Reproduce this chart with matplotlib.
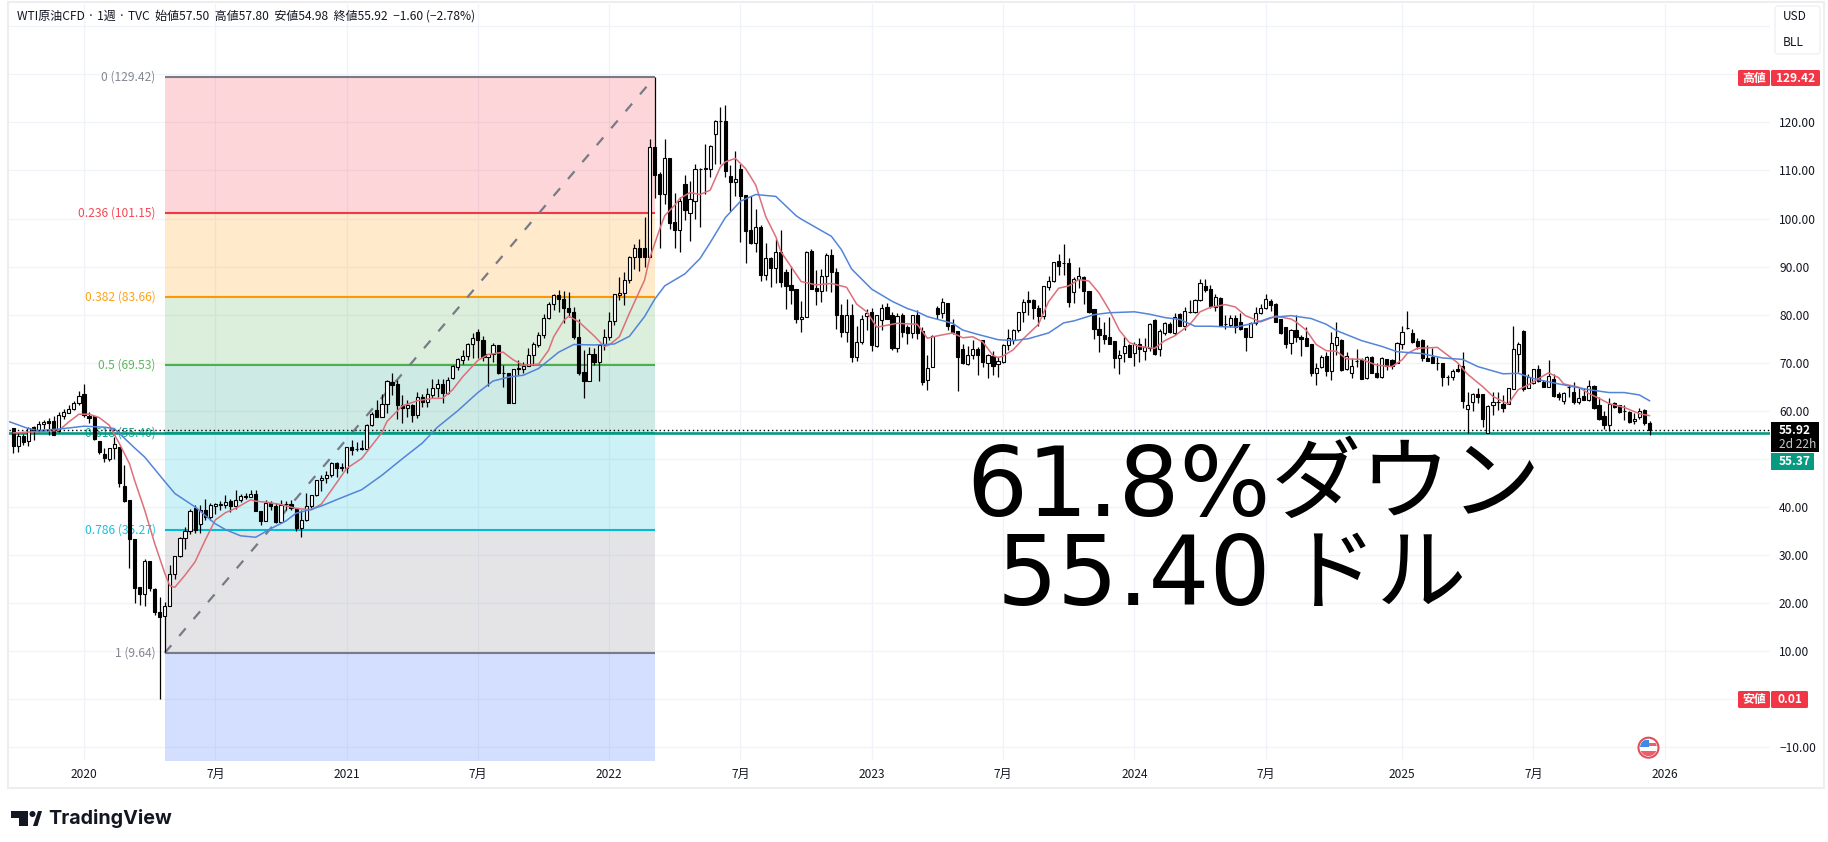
import numpy as np
import matplotlib
matplotlib.use("Agg")
import matplotlib.pyplot as plt
from matplotlib.patches import Rectangle, FancyBboxPatch, Circle, Polygon

plt.rcParams['font.family'] = ['Noto Sans CJK JP', 'DejaVu Sans']

# weekly candles
opens = [56.4,52.75,54.8,53.7,56.6,55.9,57.2,57.8,57.9,55.7,
59,59.6,60.3,61.6,63.6,58.9,58.9,53.7,51,50,
52.2,52.5,44.4,41.4,33.3,23.3,21.8,28.8,23,18.2,
17.4,19.5,26,29.7,33.6,35.1,39.8,36.4,39.4,38,
40.1,40.4,40.5,41.2,40.3,41.4,42.1,42.1,42.8,39.2,
37.1,40.9,40.3,36.9,40.7,40.7,39.7,35.7,37.2,40.1,
42.4,45.6,46,46.6,49.1,48.2,48.2,52.5,52.1,52.2,
52.1,57,60.1,58.8,61.5,66,65.5,61.3,60.6,61.2,
59.1,62.9,61.9,63.3,64.7,65.5,63.8,66.8,69.2,70.6,
71.4,73.8,76.4,74.7,71.2,71.9,73.7,67.9,67.8,61.7,
68.6,68.8,69.3,71.7,73.7,75.7,79.4,82.3,84,83.2,
81.3,80.6,75.4,68,66.3,71.9,70.2,73.6,75.3,78.7,
84.1,84.6,87.2,91.9,93.8,93.8,91.9,114.8,109.2,105.2,
112.5,99.2,97.7,107.1,101.2,103.7,110.4,110.4,110.4,117.5,
120.2,120.3,108.8,107.5,110.4,104.9,97.6,95,98.3,88.2,
91.8,89.8,93,88.9,86.2,85.3,79.2,79.6,93.2,85.5,
85,88.1,92.4,88.8,80,76.4,80,71.2,74.4,79.8,
80.5,73.4,78.8,81.6,79.9,73.1,79.9,77.5,76.2,79.9,
76.6,66.4,69.2,81.4,80.4,82.5,77.8,76.6,72.8,69.8,
71.7,72.8,74.7,70,71.4,69.7,70.2,73.7,74.7,76.8,
80.5,83,83,81.3,79.7,85.8,87.1,91.1,90.7,90.7,
84.8,87.5,87.8,85,81.2,77,75.8,75.3,74.5,71,
72.1,73.7,72.1,73.8,72.5,73,78.9,72.8,76.2,78,
76.1,80.1,77.7,80.6,80.5,83,86,85.3,81.7,83.4,
78,77.8,79.4,78.5,77.3,75.3,78.3,80.4,81.3,82.8,
82.3,79,77.4,74.2,76.9,75.4,75.07,74,67.9,69.2,
71.4,68.3,73.7,74.7,68.8,67.9,70.4,70.6,66.9,71.25,
67.9,66.95,70.7,70.6,70,74,77.3,76.1,74.5,74.7,
70.9,71.25,70,70,66.95,67.1,68.8,69.4,60.3,61.9,
63.4,63.5,55.4,61.25,61.75,61.5,61.5,64.5,71.9,76.6,
64.7,65.7,68.6,66,65,66.7,63.5,62.1,64.9,63.9,
61.9,63.07,62.2,65.15,61.2,58.9,57,61.7,61.3,60,
59.8,57.9,58.75,60.15,57.5]
closes = [52.75,54.8,53.6,56.5,55.9,57.2,57.6,57.5,55,59.1,
59.7,60.3,61.6,63,59.1,58.6,54.2,51.4,50.2,52.2,
53.2,45,41.3,33.3,23.2,21.8,28.8,23.2,18.2,17.2,
19.5,26,29.7,33.5,35.1,39.1,35.2,39.4,38,40.4,
40.6,40.6,41.1,40.3,41.4,42.3,42.3,42.8,39.2,37.1,
40.8,40.1,36.9,40.5,40.6,39.7,35.7,37.2,40.1,42.4,
45.6,46,46.6,49.1,48.2,48.25,52.5,51.8,52.1,52.1,
57,59.4,58.8,61.5,66.2,65.4,61.3,60.6,61.2,59.1,
62.9,61.9,63.4,64.7,65.5,63.8,66.5,69.3,70.7,71.4,
73.8,75.1,74.7,71.2,71.9,73.7,67.9,67.9,61.7,68.6,
69,69.3,71.7,73.9,75.7,79.4,82.3,84,83.2,81.3,
80.5,75.4,67.8,66.3,71.9,70.2,73.7,75.3,78.7,84.4,
84.6,87.2,91.9,93.8,91.9,91.9,114.8,109,105.2,112.5,
99.1,97.7,103.6,101.8,104,110.4,110.4,110.45,115.1,120.3,
120.3,109.9,107.5,108.3,104.7,97.5,95,98.2,88.2,91.7,
89.8,93,86.9,86,85.1,79.2,79.6,93.1,85.3,84.9,
88.1,92.4,88.8,79.9,76.4,80,71.2,74.4,79.2,80.3,
73.6,79.9,81.4,79.2,73.1,79.7,76.4,76.2,79.9,76.2,
66,69,75.5,80.1,82.7,77.7,76.4,71.2,69.9,71.7,
72.8,71.7,70.2,71.6,69.4,70.3,73.7,75.1,76.8,80.5,
82.6,82.7,81.3,79.7,86,87.1,91,90.2,90.7,82.7,
87.5,88.1,85,80.5,77.1,75.8,74.9,74,71,71.7,
73.5,71.2,73.9,72.8,73.3,78,71.9,76.6,78.2,76.5,
79.6,77.7,80.8,80.6,83,86.5,85.1,81.9,83.6,77.7,
78,79.4,77.4,77,75.3,78.3,80.4,81.3,83.2,82,
78.5,76.1,73.9,76.9,75.3,74.9,73.5,67.9,69,71.25,
68.3,74.2,75.3,68.5,71.5,69.3,70.4,66.7,71.1,67.9,
66.95,71,69.3,69.3,74.2,76.5,77.3,74.4,73.5,70.9,
70.4,70,70,66.95,66.95,68.3,68.2,62.1,61.3,63.6,
62.9,58.2,61,61.75,61.75,60.5,64.66,72.8,73.9,64.5,
66.95,68.6,66.25,65,67.2,63.05,62.9,63.8,64.9,61.75,
62.6,62.2,65.15,60.5,58.2,57,61.4,60.7,59.67,60,
57.6,58.4,60,57.52,55.92]
highs = [56.4,55.3,55.1,56.7,56.8,57.9,58,58.6,59,59.7,
60.3,61.2,62,64.1,65.6,59.8,58.9,53.7,52.2,52.3,
54.5,52.5,48.7,41.4,33.3,23.3,29.1,28.8,23.1,21.2,
20.3,27.9,29.7,33.7,35.8,39.6,40.4,40.4,41.6,40.8,
40.9,41.3,42.4,41.6,43.5,42.6,43,43.5,43.5,39.2,
41.4,41.2,40.8,41.5,41.3,41.4,39.7,39.4,43,42.5,
45.7,46.6,47.5,49.3,49.3,49.1,52.5,53.9,53.5,53.9,
57.2,59.8,62.2,63.6,66.4,67.8,66.4,63.3,62.2,61.5,
64,63.6,64.7,66.7,66.7,66.7,67.1,69.5,71,72.6,
74.2,76.2,77.1,75.5,71.9,74.2,73.7,69.5,67.8,68.7,
70.6,70.2,73,74.4,76.4,80.1,82.7,84.2,85.2,85,
84.8,81.6,79.2,72.6,73.2,73,73.7,77.1,80.6,84.4,
87.9,88.9,92.2,94.7,95.7,100.4,116.5,129.42,109.6,116.5,
112.5,105.4,104.4,109,107.9,111.3,110.6,115.5,115.3,120.5,
123.1,123.6,111.1,114,111.3,105,104.7,101.9,98.6,95,
92,95.7,97.6,89.6,90.2,85.3,82.8,93.2,93.6,89.3,
89.6,92.9,93.6,89.8,82.3,83.2,82.3,77.7,80,81.2,
81.3,80,82.3,82.5,80.5,80.3,80.3,77.8,80,81,
77.5,71.6,75.7,81.8,83.4,82.5,79.2,76.6,74,73.4,
74.7,73.3,74.7,71.9,72.5,71.2,73.9,77.1,77.1,80.6,
83.2,84.9,83.2,82,86,88,91,92.7,94.8,91.7,
87.9,90,88.1,85,81.2,79.6,78.5,79.6,74.5,72.6,
75.3,74,74.4,75.1,75.1,78.2,79.2,77.1,78.5,78.5,
80.4,80.3,81.5,83,83.2,87.5,87.5,86.2,84.4,83.6,
79.9,79.9,80,80.4,77.3,78.5,81.6,82.2,84.4,83.2,
82.5,79.2,77.5,77.1,80,75.8,77.5,74,70,71.6,
72.3,76.45,78.4,74.85,72.3,70.9,72.8,70.9,71.4,71.4,
69.9,71.25,70.8,70.7,74.4,77.6,80.75,77.1,75.2,75,
73.7,73,71.25,70,67.4,68.6,69.7,72.2,64,63.8,
64.7,63.5,61.3,64,64,63.3,64.66,77.6,74.4,76.9,
67.65,68.8,69.5,66.4,70.6,67.65,64,64,65.4,65.9,
64.66,64.66,66.4,65.4,62.9,60,62.6,61.9,61.3,61.2,
60,59.5,60.5,60.4,57.8]
lows = [51.2,51.5,52.9,52.7,53.9,55.7,56.2,55,55,55.5,
58.2,59.6,60.2,61.2,58.8,57.5,54,51,49.4,49.6,
50,44.1,41.1,27.4,20.1,19.6,19.4,22.6,17.5,0.01,
9.9,19.5,25,29.6,31.3,34.4,34.5,34.5,37.3,37.3,
38.5,39.4,39.7,39,39.6,41.1,41.6,42,39.2,36.3,
37,39.4,36.6,36.7,39.4,39.4,35.1,33.8,37.1,39.7,
42.3,43.3,45,46.3,46.3,47.5,47,50.8,51.6,51.8,
51.8,56.9,58.8,58.8,59.5,63.3,58.4,57.4,58.8,57.7,
58.6,60.8,60.8,62.6,62.9,61.7,63.6,66.7,68.5,69.7,
70.6,70.9,70.9,70.4,65.2,70.2,67.6,65,61.7,61.7,
67.4,67.8,69.3,69.5,73.3,75.1,79.2,81,80.6,78.2,
79.6,75,67.4,62.6,66.3,69.5,66.3,72.6,74.7,77.8,
83,82,86.5,89.6,89.1,90,91.9,104.2,93.8,103.1,
97.9,93.9,93.1,99.8,95.4,100,98.3,105.1,108.7,111.3,
111.3,108.6,101.6,104.7,95.2,90.7,94.6,93.1,87,87.2,
85.8,86.5,85.8,81.2,82.2,78.2,76.4,79.5,85.3,82,
82.7,84.9,84.8,77.1,75.4,74.4,70.2,70.4,74,76.8,
72.5,73.3,76.8,79,72.6,72.3,75.4,74,75.2,75,
65.4,64.3,69.1,79,79.4,76.8,76,64.2,69.7,69.6,
70.8,67.5,69.2,66.9,67.4,67.1,69.9,72.6,74,76.4,
78.5,79.9,79.2,77.7,79.2,85.1,86.7,88.2,88.2,81.7,
82.5,85.5,82.2,80.3,74.9,72.3,73.9,73.9,68.9,67.7,
70.2,71.1,69.4,70.2,70.6,72.5,71.7,71.5,75.8,76.1,
75.8,77.6,76.8,80.4,80.4,82.8,84.8,81.3,80.8,77.7,
77.1,77.5,76.2,76.8,72.5,75.3,77.8,80.1,81.1,80.8,
78.5,76,73.1,71.9,74.4,71.5,73.5,67.3,65.4,69,
67.2,66.4,71.6,68.3,68.5,66.9,69.2,66.6,66.7,67.8,
66.9,66.8,68.5,68.8,70,72.8,77,74.2,72.8,70.4,
70.3,69.9,68.5,65.2,65.4,66.4,68.1,60.6,55.4,60,
61.7,56.55,55.4,59.1,60.15,59.8,61.5,64.5,68.1,64.2,
64.66,65.5,66,64.9,64.9,62.9,62.2,61.4,62.9,61.5,
61.5,62.2,62,60.3,58.07,56.2,55.85,60.5,59.46,58.07,
57.4,57.2,58.4,57,54.98]

# the two moving averages, read at bends of each line (bar number, price)
red_idx = [0,5,9,11,13,15,17,19,21,23,24,26,28,30,31,32,34,36,38,40,42,44,47,48,50,53,56,59,61,63,66,69,73,74,77,80,83,85,87,89,92,94,97,99,101,104,106,107,109,110,112,115,117,118,120,122,125,126,128,129,131,132,134,136,138,140,141,143,145,147,149,151,152,154,156,159,162,165,167,169,171,173,175,179,181,183,186,188,190,192,194,195,196,198,200,203,205,207,209,211,213,215,217,219,221,223,226,228,230,233,235,237,240,242,244,247,250,253,254,256,258,260,262,264,267,270,273,275,276,278,282,284,286,288,291,293,296,298,300,302,304,306,307,310,312,314,316,319,322,324]
red_vals = [55.4,55.7,55.9,57.7,59.3,59.3,58.6,57,53.2,49,45.6,39.4,32.4,26.2,23.6,23.3,25.8,28.6,33.1,37.3,38.8,39.7,41.5,41.2,41,40.5,39.7,39.4,40.6,43.5,48,50.1,55.5,57.8,61,62.1,62.6,62.6,64.4,67.1,70.5,71.7,72.2,70.6,69.5,69.7,72.6,75.4,78.8,79.7,78.5,75.6,73.4,73.7,75.4,80.3,87.2,91.7,97.8,100.6,102.8,104.2,105.4,105,105.9,110.7,111.8,112.5,110.4,107,100.4,96.2,93.1,90,86.9,86.2,86.5,85.7,82.2,80.6,77.4,77.8,78.2,78,75.1,75.6,76.2,75.2,75.4,74.3,71.5,71.1,71.4,72.7,75,78,82.7,85.5,86,87.3,87,84.5,81,76.8,74.2,73.4,73,74.6,75.6,78,80.6,81.5,82.1,81.6,79.8,78.5,79.7,79.1,78.5,76.8,73.8,72.5,72.4,70.8,70.7,69.5,69.2,70.6,71.9,73,73.2,71.6,70,67.6,65,63,61.4,64.4,65.4,66.7,67.9,66.9,65.6,64.9,63.6,62.6,61.5,60.7,59.4,59]
blue_idx = [-0.7,3,5,9,14,18,20,24,26,30,32,36,40,42,45,48,51,54,56,59,61,64,69,73,77,81,84,88,92,95,98,101,104,108,111,115,119,122,125,127,129,133,136,138,141,144,147,151,155,156,162,164,166,170,174,177,179,181,186,188,191,195,198,201,205,208,210,214,217,222,225,228,231,234,237,242,246,249,253,257,260,262,267,271,274,279,283,287,290,295,298,301,306,309,312,316,319,322,324]
blue_vals = [57.7,56.3,55.9,56.2,56.8,56.6,56.3,52.3,50.4,45.3,42.8,40,36.5,35.3,34,33.7,35.5,37.1,38.7,39.5,40.2,41.5,43.6,46.6,50,53.3,56.6,60,63.8,66.2,67,67.4,68.8,72.2,73.8,73.7,73.9,75.5,79.6,83.2,86,88.5,91.7,95,100.2,103.6,105,104.6,100.6,99.9,96.3,93.5,89.5,85.3,82.8,81.3,80.6,79.6,78.2,76.8,75.9,74.8,74.6,75,76.2,78.3,78.7,80,80.4,80.6,80.1,79.4,79,77.6,77.6,77.4,78.3,79.4,79.8,79.2,78,76.7,74.6,73.4,72.3,71.9,71,70.7,69.2,67.7,67.8,66.7,65.6,65,64.4,63.8,63.8,63.3,62.1]

# fibonacci retracement
fib_start, fib_end = 30, 127
fib_ratios = ['0', '0.236', '0.382', '0.5', '0.618', '0.786', '1']
fib_prices = [129.42, 101.15, 83.66, 69.53, 55.40, 35.27, 9.64]
fib_colors = ['#787b86', '#f23645', '#ff9800', '#4caf50', '#089981', '#00bcd4', '#787b86']
fib_fills = ['#f23645', '#ff9800', '#4caf50', '#089981', '#00bcd4', '#787b86', '#2962ff']
fib_bottom = -64.4

last_price = 55.92
line_price = 55.37

tick_idx = [14,40,66,92,118,144,170,196,222,248,275,301,327]
tick_labels = ['2020','7月','2021','7月','2022','7月','2023','7月','2024','7月','2025','7月','2026']
price_ticks = list(range(-10, 150, 10))

W, H = 1828, 842
fig = plt.figure(figsize=(W/100, H/100), dpi=100, facecolor='white')

# pane: x = 13.3 + 5.05*bar, y = 122.4 + (120-price)*4.807
L, R, T, B = 9, 1770, 4, 760
ax = fig.add_axes([L/W, 1-B/H, (R-L)/W, (B-T)/H])
ax.set_xlim((L-13.3)/5.05, (R-13.3)/5.05)
ax.set_ylim(120-(B-122.4)/4.807, 120-(T-122.4)/4.807)
for s in ax.spines.values():
    s.set_visible(False)
ax.set_axisbelow(True)
ax.grid(True, color='#f0f3fa', lw=0.9)
ax.set_xticks(tick_idx, tick_labels)
ax.set_yticks(price_ticks, [f'{p:.2f}'.replace('-', '−') if p < 130 else '' for p in price_ticks])
ax.yaxis.tick_right()
ax.tick_params(axis='both', length=0, labelsize=8.6, labelcolor='#131722')
ax.tick_params(axis='y', pad=6.5)
ax.tick_params(axis='x', pad=6)
for lab in ax.get_yticklabels():
    lab.set_ha('left')

lows_fill = fib_prices[1:] + [fib_bottom]
for hi, lo, col in zip(fib_prices, lows_fill, fib_fills):
    ax.fill_between([fib_start, fib_end], lo, hi, color=col, alpha=0.2, lw=0, zorder=1)
for ratio, price, col in zip(fib_ratios, fib_prices, fib_colors):
    ax.plot([fib_start, fib_end], [price, price], color=col, lw=1.5, zorder=1.5, solid_capstyle='butt')
    ax.text(28.2, price, f'{ratio} ({price:.2f})', color=col, fontsize=8.7, ha='right', va='center', zorder=1.4, alpha=0.9)
ax.plot([fib_start, fib_end], [fib_prices[-1], fib_prices[0]], color='#787b86', lw=1.6,
        dashes=(4.5, 5.5), zorder=1.6, dash_capstyle='butt')

ax.axhline(line_price, color='#089981', lw=1.9, zorder=1.7)
ax.axhline(last_price, color='black', lw=1.0, dashes=(1, 2), zorder=5)

idx = np.arange(len(opens))
op, hi, lo, cl = map(np.array, (opens, highs, lows, closes))
up = cl >= op
ax.vlines(idx, lo, hi, color='black', lw=0.9, zorder=3)
ax.bar(idx, np.abs(cl-op), bottom=np.minimum(op, cl), width=0.62,
       color=np.where(up, 'white', 'black').tolist(), edgecolor='black', linewidth=0.8, zorder=3.5)

ax.plot(red_idx, red_vals, color='#dd6f78', lw=1.1, zorder=4)
ax.plot(blue_idx, blue_vals, color='#5484da', lw=1.1, zorder=4.2)

# overlay in pixels for everything that is not on the price scale
ov = fig.add_axes([0, 0, 1, 1], zorder=10)
ov.set_xlim(0, W)
ov.set_ylim(H, 0)
ov.axis('off')
ov.patch.set_alpha(0)

ov.add_patch(Rectangle((8, 2), 1816, 786, fill=False, edgecolor='#eeeef1', lw=1.5))

ov.text(17, 16, 'WTI原油CFD · 1週 · TVC  始値57.50  高値57.80  安値54.98  終値55.92  −1.60 (−2.78%)',
        fontsize=8.65, color='#131722', va='center', ha='left')

ov.add_patch(FancyBboxPatch((1775, 6), 45, 48, boxstyle='round,pad=0,rounding_size=3',
                            fc='white', ec='#f0f0f3', lw=1))
ov.text(1783, 17, 'USD', fontsize=8.6, color='#131722', va='center')
ov.text(1783, 43, 'BLL', fontsize=8.6, color='#131722', va='center')


def tag(x0, x1, y0, y1, col, txt, size=8.6, bold=True, tc='white'):
    ov.add_patch(FancyBboxPatch((x0, y0), x1-x0, y1-y0, boxstyle='round,pad=0,rounding_size=1.5', fc=col, ec='none'))
    ov.text((x0+x1)/2, (y0+y1)/2, txt, fontsize=size, color=tc, ha='center', va='center',
            fontweight='bold' if bold else 'normal')


tag(1738, 1770, 70, 86, '#f23645', '高値')
tag(1771, 1820, 70, 86, '#f23645', '129.42')
tag(1738, 1770, 691, 708, '#f23645', '安値')
tag(1771, 1808, 691, 708, '#f23645', '0.01')

ov.add_patch(Rectangle((1771, 422), 48, 30, fc='black', ec='none'))
ov.text(1779, 430, '55.92', fontsize=8.6, color='white', va='center', fontweight='bold')
ov.text(1779, 444, '2d 22h', fontsize=8.6, color='#c9c9c9', va='center')
ov.add_patch(Rectangle((1771, 453), 43, 17, fc='#089981', ec='none'))
ov.text(1779, 461.5, '55.37', fontsize=8.6, color='white', va='center', fontweight='bold')

# big hand-written note
ov.text(966, 516, '61.8%', fontsize=69, family='DejaVu Sans', color='black', ha='left', va='baseline')
ov.text(1271, 512, 'ダウン', fontsize=65, color='black', ha='left', va='baseline')
ov.text(997, 605, '55.40', fontsize=69, family='DejaVu Sans', color='black', ha='left', va='baseline')
ov.text(1286, 602, 'ドル', fontsize=65, color='black', ha='left', va='baseline')

# flag icon
fx, fy = 1648.5, 747.7
clip = Circle((fx, fy), 8.5, transform=ov.transData)
ov.add_patch(Circle((fx, fy), 10, fc='white', ec='#e0505a', lw=1.5))
for rect in [Rectangle((fx-9, fy-8), 9.5, 7.5, fc='#3f8ae8', ec='none'),
             Rectangle((fx, fy-4.5), 10, 2.5, fc='#e8606a', ec='none'),
             Rectangle((fx-9, fy+3), 18, 5.5, fc='#e8606a', ec='none')]:
    ov.add_patch(rect)
    rect.set_clip_path(clip)

# logo
ov.add_patch(Polygon([(11, 811), (28, 811), (28, 826), (19, 826), (19, 818), (11, 818)], fc='#131722', ec='none'))
ov.add_patch(Circle((32.5, 814), 3, fc='#131722', ec='none'))
ov.add_patch(Polygon([(33, 826), (38, 811), (42, 811), (37.5, 826)], fc='#131722', ec='none'))
ov.text(48, 819, 'TradingView', fontsize=14.2, family='Inter', fontweight='bold', color='#131722', va='center', ha='left')

fig.savefig('out.png', dpi=100)
